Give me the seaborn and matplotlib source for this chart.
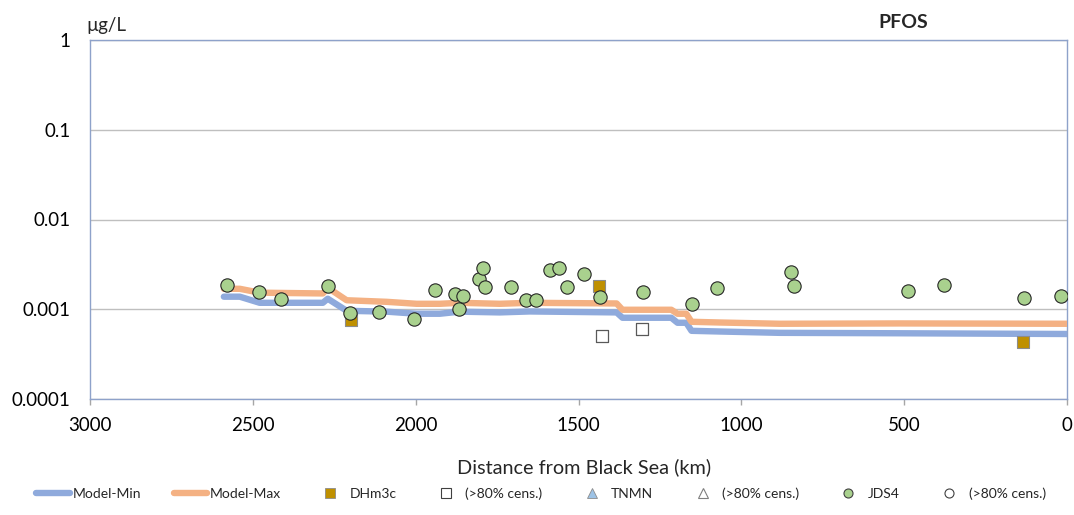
import matplotlib
matplotlib.use("Agg")
import matplotlib.pyplot as plt
import pandas as pd
import seaborn as sns
from matplotlib.lines import Line2D

# ---- data -------------------------------------------------------------
# Modelled PFOS concentration band along the river (distance from Black Sea, km)
model_km = [2589, 2540, 2479, 2285, 2270, 2212, 2089, 1997, 1926, 1865, 1742,
            1650, 1383, 1365, 1215, 1196, 1169, 1153, 1067, 883, 515, 0]
model_min = [0.00138, 0.00138, 0.00118, 0.00118, 0.00131, 0.000962, 0.00094,
             0.000891, 0.000891, 0.00094, 0.000922, 0.000945, 0.000922,
             0.000804, 0.000804, 0.000707, 0.000707, 0.000575, 0.000565,
             0.000546, 0.00054, 0.00053]
model_max = [0.00169, 0.00169, 0.00153, 0.00150, 0.00174, 0.00126, 0.00121,
             0.00115, 0.00115, 0.00118, 0.00115, 0.00118, 0.00116,
             0.000987, 0.000987, 0.000891, 0.000891, 0.000725, 0.000712,
             0.000689, 0.000695, 0.000689]

# DHm3c measurements
dhm3c_km = [2199, 1436, 135]
dhm3c_val = [0.000763, 0.00183, 0.000433]

# DHm3c measurements with >80% censored values
dhm3c_cens_km = [1429, 1304]
dhm3c_cens_val = [0.000506, 0.000605]

# JDS4 measurements
jds4_km = [2580, 2482, 2414, 2270, 2202, 2113, 2006, 1942, 1880, 1868, 1856,
           1807, 1794, 1788, 1706, 1660, 1629, 1586, 1561, 1534, 1482, 1433,
           1301, 1153, 1074, 847, 837, 488, 377, 132, 18]
jds4_val = [0.00188, 0.00157, 0.00131, 0.00183, 0.000914, 0.000938, 0.000783,
            0.00165, 0.00149, 0.00101, 0.00142, 0.00219, 0.00291, 0.00178,
            0.00178, 0.00128, 0.00128, 0.00276, 0.00291, 0.00178, 0.00249,
            0.00138, 0.00157, 0.00115, 0.00174, 0.00262, 0.00183, 0.00161,
            0.00188, 0.00134, 0.00142]

y_ticks = [1e-4, 1e-3, 1e-2, 1e-1, 1]
y_tick_labels = ["0.0001", "0.001", "0.01", "0.1", "1"]
x_ticks = [3000, 2500, 2000, 1500, 1000, 500, 0]
x_tick_labels = ["3000", "2500", "2000", "1500", "1000", "500", "0"]

legend_labels = ["Model-Min", "Model-Max", "DHm3c", "(>80% cens.)",
                 "TNMN", "(>80% cens.)", "JDS4", "(>80% cens.)"]

# ---- style ------------------------------------------------------------
sns.set_style("white")
plt.rcParams["font.family"] = ["Lato", "DejaVu Sans"]

C_MIN = "#8FAADC"
C_MAX = "#F4B183"
C_DHM = "#BF9000"
C_JDS = "#A9D18E"
C_TNMN = "#9DC3E6"
C_SPINE = "#8EA2CA"
C_GRID = "#BFBFBF"

W, H = 1074, 515
fig = plt.figure(figsize=(W / 100, H / 100), dpi=100)
ax = fig.add_axes([90 / W, 1 - 399 / H, (1067 - 90) / W, (399 - 40) / H])

df_model = pd.DataFrame({"km": model_km, "min": model_min, "max": model_max})
df_dhm = pd.DataFrame({"km": dhm3c_km, "val": dhm3c_val})
df_dhm_c = pd.DataFrame({"km": dhm3c_cens_km, "val": dhm3c_cens_val})
df_jds = pd.DataFrame({"km": jds4_km, "val": jds4_val})

sns.lineplot(data=df_model, x="km", y="min", ax=ax, color=C_MIN, lw=4.6,
             estimator=None, sort=False, solid_capstyle="round", zorder=3)
sns.lineplot(data=df_model, x="km", y="max", ax=ax, color=C_MAX, lw=4.6,
             estimator=None, sort=False, solid_capstyle="round", zorder=3)
sns.scatterplot(data=df_dhm, x="km", y="val", ax=ax, marker="s", s=80,
                color=C_DHM, edgecolor="#8C8C8C", linewidth=0.8, zorder=4)
sns.scatterplot(data=df_dhm_c, x="km", y="val", ax=ax, marker="s", s=80,
                color="white", edgecolor="#595959", linewidth=0.9, zorder=4)
sns.scatterplot(data=df_jds, x="km", y="val", ax=ax, marker="o", s=92,
                color=C_JDS, edgecolor="#262626", linewidth=0.8, zorder=5)

ax.set_yscale("log")
ax.set_ylim(1e-4, 1)
ax.set_xlim(3000, 0)
ax.set_yticks(y_ticks)
ax.set_yticklabels(y_tick_labels)
ax.yaxis.set_minor_locator(matplotlib.ticker.NullLocator())
ax.set_xticks(x_ticks)
ax.set_xticklabels(x_tick_labels)
ax.set_xlabel("")
ax.set_ylabel("")

ax.yaxis.grid(True, color=C_GRID, lw=1.0)
ax.xaxis.grid(False)
ax.set_axisbelow(True)
for side in ["left", "right", "top", "bottom"]:
    ax.spines[side].set_visible(True)
    ax.spines[side].set_color(C_SPINE)
    ax.spines[side].set_linewidth(1.0)

ax.tick_params(axis="y", length=0, pad=14, labelsize=13.5, labelcolor="#000000")
ax.tick_params(axis="x", length=4, width=1, color="#A6A6A6", direction="out",
               pad=9, labelsize=13.5, labelcolor="#000000", bottom=True)

fig.text(584 / W, 1 - 467 / H, "Distance from Black Sea (km)", ha="center",
         va="center", fontsize=14.3)
fig.text(106 / W, 1 - 25 / H, "µg/L", ha="center", va="center", fontsize=13.5)
fig.text(903 / W, 1 - 22 / H, "PFOS", ha="center", va="center", fontsize=14,
         fontweight="bold")

handles = [
    Line2D([], [], color=C_MIN, lw=4.6, solid_capstyle="round"),
    Line2D([], [], color=C_MAX, lw=4.6, solid_capstyle="round"),
    Line2D([], [], ls="none", marker="s", ms=6.5, mfc=C_DHM, mec="#8C8C8C", mew=0.6),
    Line2D([], [], ls="none", marker="s", ms=6.5, mfc="white", mec="#404040", mew=0.8),
    Line2D([], [], ls="none", marker="^", ms=6.5, mfc=C_TNMN, mec="#8C8C8C", mew=0.6),
    Line2D([], [], ls="none", marker="^", ms=6.5, mfc="white", mec="#7F7F7F", mew=0.8),
    Line2D([], [], ls="none", marker="o", ms=6.5, mfc=C_JDS, mec="#404040", mew=0.8),
    Line2D([], [], ls="none", marker="o", ms=6.5, mfc="white", mec="#404040", mew=0.8),
]
fig.legend(handles, legend_labels, ncol=8, loc="center",
           bbox_to_anchor=(541 / W, 1 - 494 / H), frameon=False, fontsize=10,
           handlelength=2.4, handletextpad=0.2, columnspacing=2.35,
           borderaxespad=0)

fig.savefig("out.png", dpi=100)
